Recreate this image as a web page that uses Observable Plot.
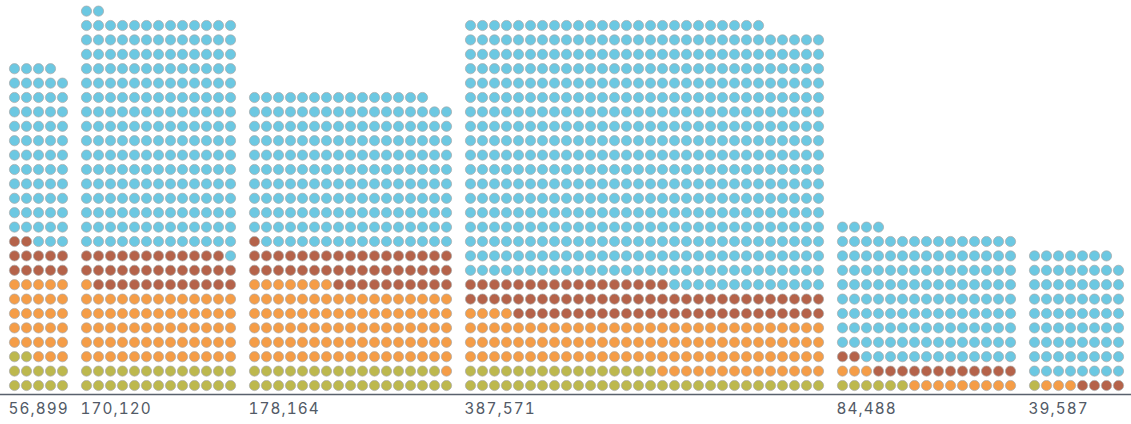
<!DOCTYPE html>
<html>
<head>
<meta charset="utf-8">
<script src="https://cdn.jsdelivr.net/npm/d3@7"></script>
<script src="https://cdn.jsdelivr.net/npm/@observablehq/plot@0.6"></script>
<style>
  body { margin: 0; background: #ffffff; }
  #chart svg g[aria-label="x-axis tick label"] text { letter-spacing: 1.1px; }
</style>
</head>
<body>
<div id="chart"></div>
<script>
// Totals shown under each waffle
const totals = [56899, 170120, 178164, 387571, 84488, 39587];
// Number of columns in each waffle block
const columns = [5, 13, 17, 30, 15, 8];
// One dot = 500 people; dot counts per category (stacked bottom to top)
const unit = 500;
const categories = ["Category 1", "Category 2", "Category 3", "Category 4"];
const cat1 = [12, 26, 33, 46, 6, 1];
const cat2 = [28, 66, 93, 108, 12, 3];
const cat3 = [12, 37, 45, 73, 14, 4];
const cat4 = [62, 211, 184, 548, 137, 71];
const colors = ["#bdb84e", "#f59d47", "#b5634a", "#6cc8e2"];

const counts = [cat1, cat2, cat3, cat4];
const cells = [];
const starts = [];
let offset = 0;
totals.forEach((t, g) => {
  const w = columns[g];
  starts.push(offset - 0.5);
  let idx = 0;
  categories.forEach((c, k) => {
    for (let n = 0; n < counts[k][g]; n++, idx++) {
      cells.push({group: g, cat: c, col: offset + (idx % w), row: Math.floor(idx / w)});
    }
  });
  offset += w + 1;
});
const labelAt = new Map(starts.map((s, i) => [s, d3.format(",")(totals[i])]));

const chart = Plot.plot({
  width: 1131,
  height: 424,
  marginLeft: 0,
  marginRight: 0,
  marginTop: 0,
  marginBottom: 30,
  style: {fontFamily: "Inter, 'DejaVu Sans', sans-serif", background: "#ffffff"},
  x: {domain: [-14 / 12, 1117 / 12], axis: null},
  y: {domain: [-0.625, 385 / 14.4], axis: null},
  color: {domain: categories, range: colors},
  marks: [
    Plot.dot(cells, {x: "col", y: "row", fill: "cat", r: 5.1, stroke: "#a8a8a8", strokeWidth: 0.7}),
    Plot.frame({anchor: "bottom", stroke: "#59616d", strokeWidth: 1.6}),
    Plot.axisX(starts, {
      label: null,
      tickSize: 0,
      tickPadding: 9,
      textAnchor: "start",
      fontSize: 15.3,
      fill: "#525a66",
      tickFormat: (d) => labelAt.get(d)
    })
  ]
});
document.getElementById("chart").appendChild(chart);
</script>
</body>
</html>
